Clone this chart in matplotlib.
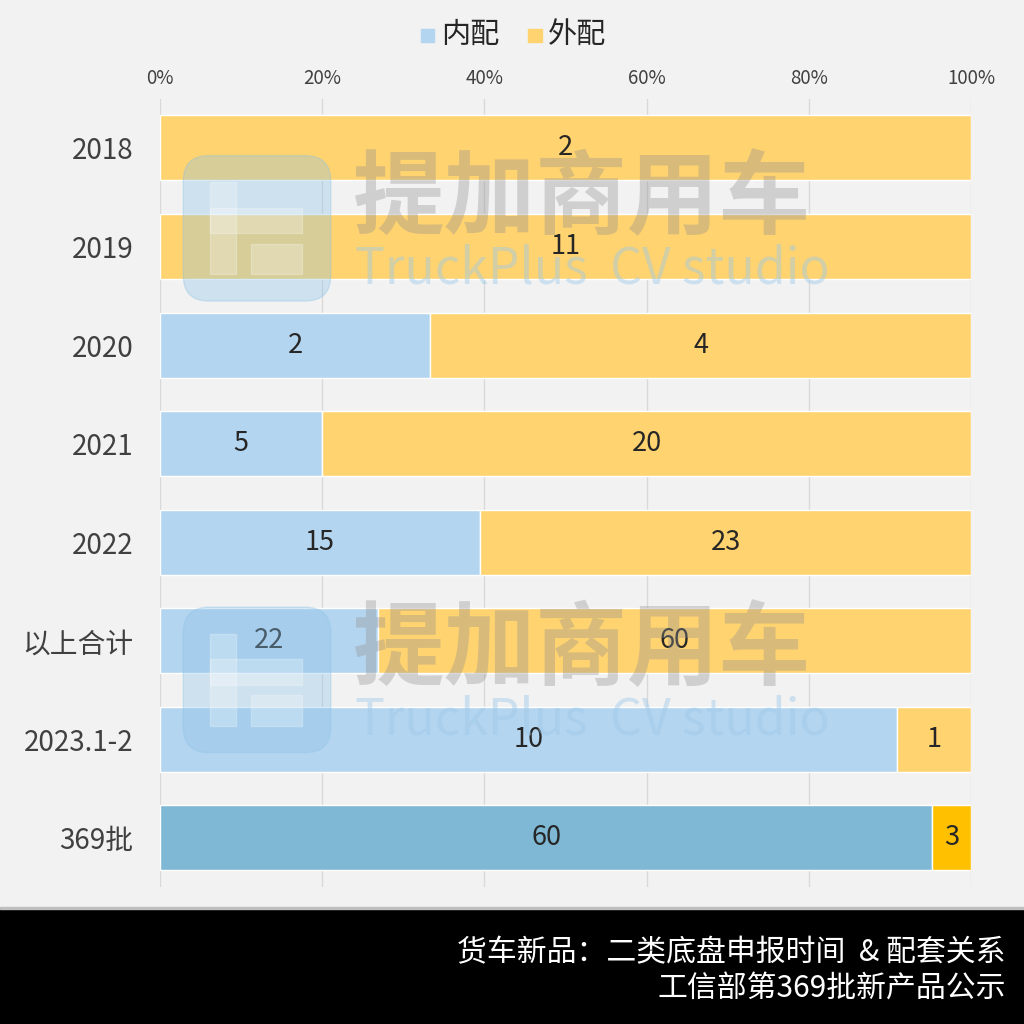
import matplotlib.pyplot as plt
from matplotlib.patches import FancyBboxPatch, Rectangle

plt.rcParams['font.family'] = ['Noto Sans CJK SC', 'DejaVu Sans']

categories = ['2018', '2019', '2020', '2021', '2022', '以上合计', '2023.1-2', '369批']
inner = [0, 0, 2, 5, 15, 22, 10, 60]    # 内配
outer = [2, 11, 4, 20, 23, 60, 1, 3]    # 外配
xticks = [0, 20, 40, 60, 80, 100]

c_in = '#B4D5EF'
c_out = '#FFD36F'
c_in_last = '#7EB8D4'
c_out_last = '#FFC000'

bg = '#F2F2F2'
fig = plt.figure(figsize=(10.24, 10.24), dpi=100, facecolor=bg)
ax = fig.add_axes([0.15625, 0.1338, 0.792, 0.7698], facecolor=bg)

n = len(categories)
ypos = list(range(n))
tot = [a + b for a, b in zip(inner, outer)]
p_in = [a / t * 100 for a, t in zip(inner, tot)]
p_out = [b / t * 100 for b, t in zip(outer, tot)]
cols_in = [c_in] * (n - 1) + [c_in_last]
cols_out = [c_out] * (n - 1) + [c_out_last]

ax.barh(ypos, p_in, height=0.66, color=cols_in, edgecolor='white', linewidth=1, zorder=3)
ax.barh(ypos, p_out, left=p_in, height=0.66, color=cols_out, edgecolor='white', linewidth=1, zorder=3)

for i in range(n):
    if inner[i] > 0:
        ax.text(p_in[i] / 2, i, str(inner[i]), ha='center', va='center', fontsize=19.5, color='#262626', zorder=5)
    if outer[i] > 0:
        ax.text(p_in[i] + p_out[i] / 2, i, str(outer[i]), ha='center', va='center', fontsize=19.5, color='#262626', zorder=5)

ax.set_xlim(0, 100)
ax.set_ylim(n - 0.5, -0.5)
ax.set_yticks(ypos)
ax.set_yticklabels(categories, fontsize=20, color='#404040')
ax.set_xticks(xticks)
ax.set_xticklabels([f'{v}%' for v in xticks], fontsize=13.5, color='#404040')
ax.xaxis.tick_top()
ax.tick_params(axis='x', length=0, pad=7)
ax.tick_params(axis='y', length=0, pad=19)
ax.grid(True, axis='x', color='#D9D9D9', lw=1, zorder=0)
for s in ax.spines.values():
    s.set_visible(False)

# legend
fig.patches.append(Rectangle((0.411, 0.959), 0.013, 0.013, transform=fig.transFigure, color=c_in))
fig.text(0.431, 0.966, '内配', fontsize=21, va='center', color='#262626')
fig.patches.append(Rectangle((0.516, 0.959), 0.013, 0.013, transform=fig.transFigure, color=c_out))
fig.text(0.535, 0.966, '外配', fontsize=21, va='center', color='#262626')

# watermark
for yc in [0.777, 0.336]:
    fig.patches.append(FancyBboxPatch((0.182, yc - 0.068), 0.138, 0.136,
                                      boxstyle='round,pad=0.003,rounding_size=0.025',
                                      transform=fig.transFigure, color='#8CC2E8', alpha=0.35, zorder=6))
    for (x0, y0, w, h) in [(0.205, yc - 0.045, 0.025, 0.09), (0.205, yc - 0.005, 0.09, 0.025),
                           (0.245, yc - 0.045, 0.05, 0.03)]:
        fig.patches.append(Rectangle((x0, y0), w, h, transform=fig.transFigure,
                                     color='white', alpha=0.25, zorder=6))
    fig.text(0.345, yc + 0.028, '提加商用车', fontsize=66, fontweight='bold', color='#909090',
             alpha=0.35, va='center', ha='left', zorder=6)
    fig.text(0.347, yc - 0.04, 'TruckPlus  CV studio', fontsize=36, color='#9CC8EA',
             alpha=0.45, va='center', ha='left', zorder=6)

# footer
fig.patches.append(Rectangle((0, 0), 1, 0.113, transform=fig.transFigure, color='black', zorder=1))
fig.patches.append(Rectangle((0, 0.112), 1, 0.002, transform=fig.transFigure, color='#BFBFBF', zorder=1))
fig.text(0.982, 0.070, '货车新品：二类底盘申报时间  & 配套关系', fontsize=21.5, color='white', ha='right', va='center')
fig.text(0.982, 0.034, '工信部第369批新产品公示', fontsize=21.5, color='white', ha='right', va='center')

fig.savefig('out.png', dpi=100, facecolor=bg)
